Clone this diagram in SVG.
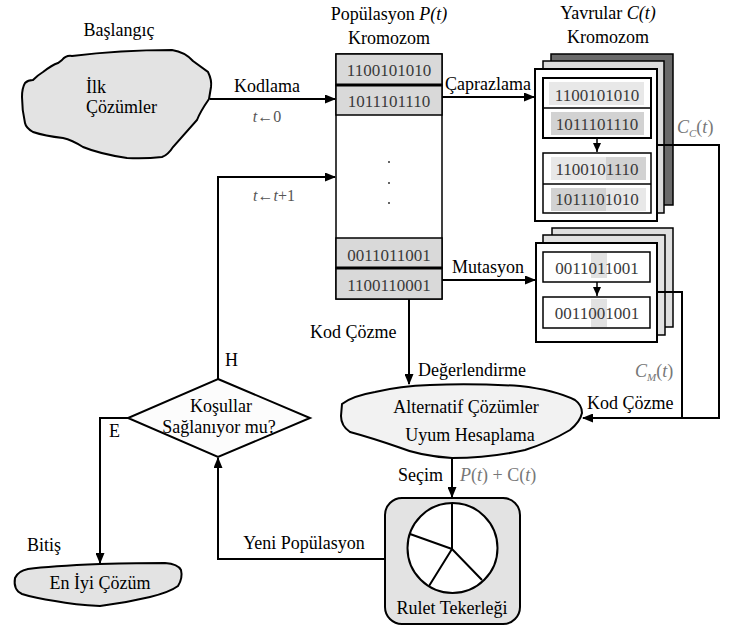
<svg xmlns="http://www.w3.org/2000/svg" width="741" height="632" viewBox="0 0 741 632">
<defs>
<marker id="ah" markerUnits="userSpaceOnUse" markerWidth="11" markerHeight="9" refX="10" refY="4.5" orient="auto">
<path d="M0,0 L11,4.5 L0,9 z" fill="#000"/>
</marker>
<marker id="ahs" markerUnits="userSpaceOnUse" markerWidth="9" markerHeight="8" refX="9" refY="4" orient="auto">
<path d="M0,0 L9,4 L0,8 z" fill="#000"/>
</marker>
</defs>
<style>
text{font-family:"Liberation Serif","Times New Roman",serif;font-size:18px;fill:#000}
.c{text-anchor:middle}
.bits{font-size:17px;fill:#3a3a3a;text-anchor:middle}
.g{fill:#555;font-size:16px}
.gi{fill:#777}
.i{font-style:italic}
.ln{fill:none;stroke:#000;stroke-width:2}
.box{fill:#fff;stroke:#000;stroke-width:1.5}
.cell{fill:#d9d9d9;stroke:#000;stroke-width:1.5}
.blob{stroke:#000;stroke-width:2}
</style>
<rect width="741" height="632" fill="#fff"/>

<g id="connectors">
<path class="ln" d="M210,99 H335" marker-end="url(#ah)"/>
<path class="ln" d="M218,379 V177 H335" marker-end="url(#ah)"/>
<path class="ln" d="M442,97 H534" marker-end="url(#ah)"/>
<path class="ln" d="M442,280 H535" marker-end="url(#ah)"/>
<path class="ln" d="M409,299 V384" marker-end="url(#ah)"/>
<path class="ln" d="M452,458 V497" marker-end="url(#ah)"/>
<path class="ln" d="M385,559 H218 V458" marker-end="url(#ah)"/>
<path class="ln" d="M128,418 H100 V563" marker-end="url(#ah)"/>
</g>

<g id="start">
<text class="c" x="119" y="36">Başlangıç</text>
<path class="blob" fill="#e3e3e3" d="M62,60 Q66,55 72,56 Q120,50 172,50 Q185,52 193,61 L208,72 Q212,80 211,87 L209,99 Q200,112 197,120 L173,147 Q168,155 162,157 Q145,159 127,158 Q100,154 83,147 Q72,140 63,138 Q45,136 33,132 Q26,128 25,123 Q22,110 22,97 Q22,88 25,83 Q28,80 33,80 Q38,75 43,72 Q52,65 58,63 Z"/>
<text x="86" y="93">İlk</text>
<text x="86" y="113">Çözümler</text>
<text class="c" x="267" y="92">Kodlama</text>
<text class="c g" x="267" y="122"><tspan class="i">t</tspan>←0</text>
<text class="c g" x="274" y="201"><tspan class="i">t</tspan>←<tspan class="i">t</tspan>+1</text>
</g>

<g id="population">
<text class="c" x="389" y="20">Popülasyon <tspan class="i">P(t)</tspan></text>
<text class="c" x="389" y="44">Kromozom</text>
<rect class="box" x="336" y="54" width="106" height="245"/>
<rect class="cell" x="336" y="54" width="106" height="31"/>
<rect class="cell" x="336" y="85" width="106" height="30"/>
<rect class="cell" x="336" y="238" width="106" height="30"/>
<rect class="cell" x="336" y="268" width="106" height="31"/>
<path d="M336,85 H442 M336,268 H442" stroke="#000" stroke-width="3"/>
<text class="bits" x="389" y="76">1100101010</text>
<text class="bits" x="389" y="107">1011101110</text>
<circle cx="389" cy="162" r="1" fill="#333"/>
<circle cx="389" cy="183" r="1" fill="#333"/>
<circle cx="389" cy="203" r="1" fill="#333"/>
<text class="bits" x="389" y="261">0011011001</text>
<text class="bits" x="389" y="291">1100110001</text>
<text x="445" y="90">Çaprazlama</text>
<text x="452" y="273">Mutasyon</text>
<text x="310" y="338">Kod Çözme</text>
</g>

<g id="crossover">
<text class="c" x="608" y="19">Yavrular <tspan class="i">C(t)</tspan></text>
<text class="c" x="608" y="43">Kromozom</text>
<rect x="551" y="54" width="122" height="151" fill="#6a6a6a" stroke="#000" stroke-width="1.5"/>
<rect x="543" y="61" width="121" height="152" fill="#dcdcdc" stroke="#000" stroke-width="1.5"/>
<rect x="535" y="69" width="122" height="152" fill="#fff" stroke="#000" stroke-width="2"/>
<rect x="549" y="82" width="95" height="23" fill="#e8e8e8"/>
<rect x="551" y="112" width="93" height="23" fill="#d2d2d2"/>
<rect x="551" y="157" width="55" height="23" fill="#e8e8e8"/>
<rect x="606" y="157" width="40" height="23" fill="#d2d2d2"/>
<rect x="551" y="188" width="55" height="23" fill="#d2d2d2"/>
<rect x="606" y="188" width="40" height="23" fill="#e8e8e8"/>
<rect x="543" y="78" width="108" height="60" fill="none" stroke="#000" stroke-width="2"/>
<path d="M543,108 H651" stroke="#000" stroke-width="1.5"/>
<rect x="543" y="153" width="108" height="60" fill="none" stroke="#000" stroke-width="1.5"/>
<path d="M543,184 H651" stroke="#000" stroke-width="1.5"/>
<path d="M597,138 V152" stroke="#000" stroke-width="1.5" marker-end="url(#ahs)"/>
<text class="bits" x="597" y="101">1100101010</text>
<text class="bits" x="597" y="130">1011101110</text>
<text class="bits" x="597" y="175">1100101110</text>
<text class="bits" x="597" y="205">1011101010</text>
<path class="ln" d="M657,145 H719 V418 H583" marker-end="url(#ah)"/>
<text class="gi" x="677" y="133"><tspan class="i">C</tspan><tspan class="i" font-size="11" dy="4">C</tspan><tspan dy="-4">(</tspan><tspan class="i">t</tspan>)</text>
</g>

<g id="mutation">
<rect x="552" y="228" width="121" height="99" fill="#dedede" stroke="#000" stroke-width="1.5"/>
<rect x="543" y="235" width="122" height="100" fill="#e2e2e2" stroke="#000" stroke-width="1.5"/>
<rect x="536" y="243" width="121" height="99" fill="#fff" stroke="#000" stroke-width="2"/>
<rect x="543" y="252" width="107" height="30" fill="#fff" stroke="#000" stroke-width="1.5"/>
<rect x="543" y="297" width="107" height="31" fill="#fff" stroke="#000" stroke-width="1.5"/>
<rect x="591" y="253" width="16" height="25" fill="#e2e2e2"/>
<rect x="591" y="299" width="16" height="28" fill="#e2e2e2"/>
<path d="M597,282 V296" stroke="#000" stroke-width="1.5" marker-end="url(#ahs)"/>
<text class="bits" x="597" y="274">0011011001</text>
<text class="bits" x="597" y="319">0011001001</text>
<path class="ln" d="M657,292 H682 V418"/>
<text class="gi" x="635" y="377"><tspan class="i">C</tspan><tspan class="i" font-size="11" dy="4">M</tspan><tspan dy="-4">(</tspan><tspan class="i">t</tspan>)</text>
<text x="587" y="409">Kod Çözme</text>
</g>

<g id="evaluation">
<text x="418" y="376">Değerlendirme</text>
<path class="blob" fill="#f2f2f2" d="M342,404 Q352,396 375,392 Q400,386 430,385 Q470,383 520,386 Q555,390 575,400 Q582,405 582,413 Q580,422 570,430 Q550,442 525,450 Q490,458 452,458 Q420,456 398,447 Q372,438 350,432 Q341,426 341,416 Z"/>
<text class="c" x="466" y="413">Alternatif Çözümler</text>
<text class="c" x="470" y="441">Uyum Hesaplama</text>
<text x="443" y="481" text-anchor="end">Seçim</text>
<text class="gi" x="460" y="481" fill="#555"><tspan class="i">P</tspan>(<tspan class="i">t</tspan>) + C(<tspan class="i">t</tspan>)</text>
</g>

<g id="decision">
<path d="M218,379 L310,418 L218,457 L128,418 Z" fill="#fcfcfc" stroke="#000" stroke-width="2"/>
<text class="c" x="221" y="412">Koşullar</text>
<text class="c" x="219" y="433">Sağlanıyor mu?</text>
<text x="225" y="366">H</text>
<text x="109" y="437">E</text>
<text class="c" x="304" y="549">Yeni Popülasyon</text>
</g>

<g id="roulette">
<rect x="385" y="498" width="135" height="126" rx="17" fill="#e3e3e3" stroke="#000" stroke-width="2"/>
<circle cx="452.5" cy="548" r="45" fill="#fff" stroke="#000" stroke-width="2"/>
<path d="M452,549 V503 M452,549 L410,534 M452,549 L429,586 M452,549 L482,580" stroke="#000" stroke-width="2"/>
<text class="c" x="452" y="614">Rulet Tekerleği</text>
</g>

<g id="end">
<text x="27" y="551">Bitiş</text>
<path class="blob" fill="#e3e3e3" d="M15,578 Q18,571 28,569 Q50,566 100,564 Q140,563 165,563 Q178,564 181,570 Q183,578 178,586 Q170,592 150,597 Q125,603 100,606 Q75,605 55,601 Q35,598 22,594 Q13,590 15,578 Z"/>
<text class="c" x="100" y="589">En İyi Çözüm</text>
</g>
</svg>
